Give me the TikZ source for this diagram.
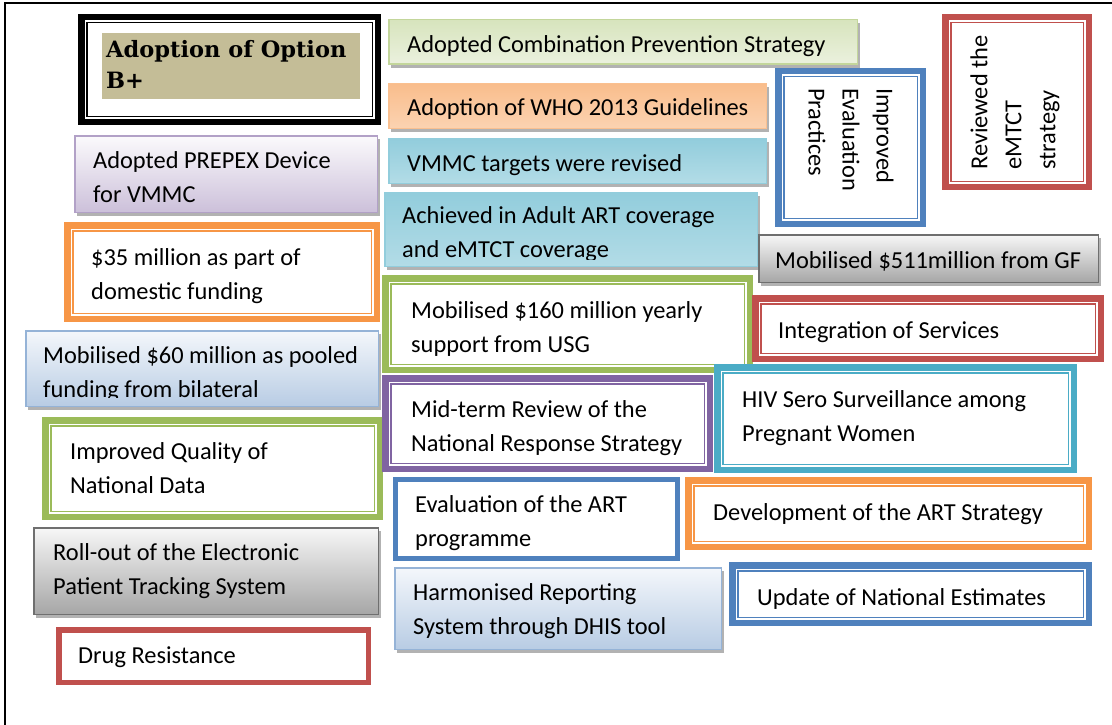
\documentclass[tikz,border=0pt]{standalone}
\usepackage{fontspec}
\setmainfont{Carlito}
\newfontfamily\headfont{DejaVu Serif}
\usepackage{xcolor}
\usetikzlibrary{shapes,arrows,positioning,shadows,calc}

\definecolor{cRed}{HTML}{C0504D}
\definecolor{cBlue}{HTML}{4F81BD}
\definecolor{cOrange}{HTML}{F79646}
\definecolor{cPurple}{HTML}{8064A2}
\definecolor{cTeal}{HTML}{4BACC6}
\definecolor{cGreen}{HTML}{9BBB59}
\definecolor{cTan}{HTML}{C4BD97}
\definecolor{gGrnB}{HTML}{C3D69B}
\definecolor{gGrnT}{HTML}{D7E4BD}
\definecolor{gGrnM}{HTML}{EBF1DE}
\definecolor{gOrB}{HTML}{FAC090}
\definecolor{gOrT}{HTML}{F9BD8C}
\definecolor{gOrM}{HTML}{FDE4D0}
\definecolor{gTealB}{HTML}{92CDDC}
\definecolor{gTealT}{HTML}{92CDDC}
\definecolor{gTealM}{HTML}{DAEEF3}
\definecolor{gGrayB}{HTML}{6F6F6F}
\definecolor{gGrayT}{HTML}{F7F7F7}
\definecolor{gGrayM}{HTML}{A6A6A6}
\definecolor{gPurB}{HTML}{B2A1C7}
\definecolor{gPurT}{HTML}{FBFAFC}
\definecolor{gPurM}{HTML}{CCC0DA}
\definecolor{gBluB}{HTML}{95B3D7}
\definecolor{gBluT}{HTML}{F4F7FB}
\definecolor{gBluM}{HTML}{B8CCE4}

\begin{document}
\begin{tikzpicture}[x=1pt, y=-1pt,
  txt/.style={font=\fontsize{24.4}{34}\selectfont, align=left, inner sep=0pt, anchor=west,
    execute at begin node=\strut, execute at end node=\strut},
  dbl/.style={rectangle, draw=#1, line width=6.5pt, fill=white, inner sep=0pt,
    path picture={\draw[#1, line width=1.3pt]
      ([shift={(5.6pt,-5.6pt)}]path picture bounding box.north west) rectangle
      ([shift={(-5.6pt,5.6pt)}]path picture bounding box.south east);}},
  sgl/.style={rectangle, draw=#1, line width=5.5pt, fill=white, inner sep=0pt},
  gbox/.style n args={3}{rectangle, draw=#1, line width=1.5pt, inner sep=0pt,
    top color=#2, bottom color=#3,
    drop shadow={shadow xshift=2.5pt, shadow yshift=-3.5pt, fill=black, opacity=0.3}}]
\useasboundingbox (0,0) rectangle (1112,725);
\coordinate (fb) at (5,725);
\coordinate (fc) at (5,3);
\coordinate (fr) at (1112,3);
\draw[line width=1.7pt] (fb) -- (fc) -- (fr);

\node[dbl=black, minimum width=296.5pt, minimum height=104.5pt] (opt) at (229.5,69.5) {};
\node[fill=cTan, minimum width=258pt, minimum height=66pt, inner sep=0pt] (optfill) at (231,66) {};
\node[font=\headfont\bfseries\fontsize{22.5}{31}\selectfont, align=left, inner sep=0pt, anchor=west] (optT) at (106,64) {Adoption of Option\\B+};

\node[gbox={gGrnB}{gGrnT}{gGrnM}, minimum width=468.5pt, minimum height=44.5pt] (combo) at (623,42) {};
\node[txt] (comboT) at (407,46) {Adopted Combination Prevention Strategy};

\node[gbox={gOrB}{gOrT}{gOrM}, middle color=gOrM, bottom color=gOrB!70, minimum width=377.5pt, minimum height=44.5pt] (who) at (577.5,106) {};
\node[txt] (whoT) at (407,109) {Adoption of WHO 2013 Guidelines};

\node[gbox={gTealB}{gTealT}{gTealM}, middle color=gTealM, bottom color=gTealB!70, minimum width=377.5pt, minimum height=44.5pt] (vmmc) at (577.5,161) {};
\node[txt] (vmmcT) at (407,165) {VMMC targets were revised};

\node[gbox={gTealB}{gTealT}{gTealM}, middle color=gTealM, bottom color=gTealB!70, minimum width=372.5pt, minimum height=73.5pt] (achieved) at (571,229.5) {};
\begin{scope}
\clip (achieved.north west) rectangle ([yshift=8pt]achieved.south east);
\node[txt] (achievedT) at (402,237.5) {Achieved in Adult ART coverage\\and eMTCT coverage};
\end{scope}

\node[dbl=cBlue, minimum width=144.5pt, minimum height=152.5pt] (evalprac) at (850.5,147.5) {};
\node[txt, rotate=-90] (evalpracT) at (846,88) {Improved\\Evaluation\\Practices};

\node[dbl=cRed, minimum width=143.5pt, minimum height=169.5pt] (reviewed) at (1017,102) {};
\node[txt, rotate=90] (reviewedT) at (1018,170) {Reviewed the\\eMTCT\\strategy};

\node[gbox={gGrayB}{gGrayT}{gGrayM}, minimum width=339.5pt, minimum height=47.5pt] (gf) at (928.5,258.5) {};
\node[txt] (gfT) at (775,262) {Mobilised \$511million from GF};

\node[gbox={gPurB}{gPurT}{gPurM}, minimum width=302.5pt, minimum height=76.5pt] (prepex) at (226,174) {};
\node[txt] (prepexT) at (93,182) {Adopted PREPEX Device\\for VMMC};

\node[dbl=cOrange, minimum width=309.5pt, minimum height=93.5pt] (dom) at (222,272) {};
\node[txt] (domT) at (91,279) {\$35 million as part of\\domestic funding};

\node[gbox={gBluB}{gBluT}{gBluM}, minimum width=352.5pt, minimum height=75.5pt] (pooled) at (202,368.5) {};
\begin{scope}
\clip (pooled.north west) rectangle ([yshift=10pt]pooled.south east);
\node[txt] (pooledT) at (43,377.5) {Mobilised \$60 million as pooled\\funding from bilateral};
\end{scope}

\node[dbl=cGreen, minimum width=334.5pt, minimum height=96.5pt] (quality) at (212.5,468.5) {};
\node[txt] (qualityT) at (70,473) {Improved Quality of\\National Data};

\node[gbox={gGrayB}{gGrayT}{gGrayM}, minimum width=344.5pt, minimum height=86.5pt] (rollout) at (206,571) {};
\node[txt] (rolloutT) at (53,574) {Roll-out of the Electronic\\Patient Tracking System};

\node[sgl=cRed, minimum width=309.5pt, minimum height=52.5pt] (drug) at (213.5,656) {};
\node[txt] (drugT) at (78,657) {Drug Resistance};

\node[dbl=cGreen, minimum width=364.5pt, minimum height=91.5pt] (usg) at (567.5,324) {};
\node[txt] (usgT) at (411,332) {Mobilised \$160 million yearly\\support from USG};

\node[dbl=cRed, minimum width=345.5pt, minimum height=60.5pt] (integ) at (928,328.5) {};
\node[txt] (integT) at (778,332) {Integration of Services};

\node[dbl=cPurple, minimum width=324.5pt, minimum height=90.5pt] (midterm) at (547.5,423.5) {};
\begin{scope}
\clip (midterm.north west) rectangle ([yshift=16pt]midterm.south east);
\node[txt] (midtermT) at (411,431.5) {Mid-term Review of the\\National Response Strategy};
\end{scope}

\node[dbl=cTeal, minimum width=356.5pt, minimum height=102.5pt] (hiv) at (895.5,418.5) {};
\node[txt] (hivT) at (742,421) {HIV Sero Surveillance among\\Pregnant Women};

\node[sgl=cBlue, minimum width=282pt, minimum height=79pt] (evalart) at (536.5,519) {};
\begin{scope}
\clip (evalart.north west) rectangle ([yshift=11pt]evalart.south east);
\node[txt] (evalartT) at (415,526.5) {Evaluation of the ART\\programme};
\end{scope}

\node[dbl=cOrange, minimum width=400.5pt, minimum height=66.5pt] (artstrat) at (888.5,513.5) {};
\node[txt] (artstratT) at (713,514) {Development of the ART Strategy};

\node[gbox={gBluB}{gBluT}{gBluM}, minimum width=326.5pt, minimum height=81.5pt] (harmon) at (558,608.5) {};
\node[txt] (harmonT) at (413,614.5) {Harmonised Reporting\\System through DHIS tool};

\node[dbl=cBlue, minimum width=356.5pt, minimum height=57.5pt] (update) at (910.5,594) {};
\node[txt] (updateT) at (757,599) {Update of National Estimates};
\end{tikzpicture}
\end{document}
